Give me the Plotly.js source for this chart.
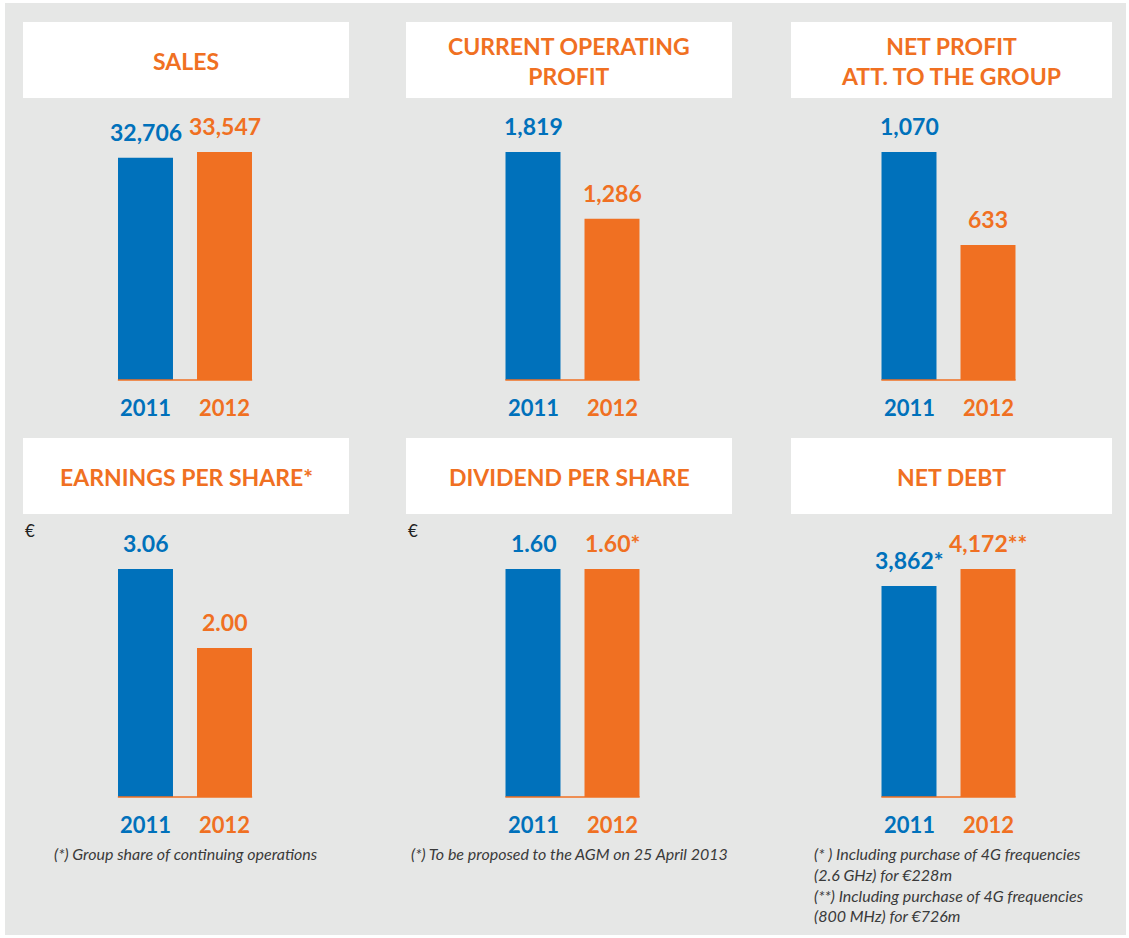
<!DOCTYPE html>
<html>
<head>
<meta charset="utf-8">
<script src="https://cdn.plot.ly/plotly-3.0.1.min.js"></script>
<style>
  html, body { margin: 0; padding: 0; background: #ffffff; }
  #chart { width: 1129px; height: 938px; }
</style>
</head>
<body>
<div id="chart"></div>
<script>
// ---------- DATA ----------
const years = ['2011', '2012'];
const panelTitles = [
  'SALES',
  'CURRENT OPERATING<br>PROFIT',
  'NET PROFIT<br>ATT. TO THE GROUP',
  'EARNINGS PER SHARE*',
  'DIVIDEND PER SHARE',
  'NET DEBT'
];
const sales = [32706, 33547];
const currentOperatingProfit = [1819, 1286];
const netProfit = [1070, 633];
const earningsPerShare = [3.06, 2.00];
const dividendPerShare = [1.60, 1.60];
const netDebt = [3862, 4172];
const valueLabels = [
  ['32,706', '33,547'],
  ['1,819', '1,286'],
  ['1,070', '633'],
  ['3.06', '2.00'],
  ['1.60', '1.60*'],
  ['3,862*', '4,172**']
];
const unitLabels = ['', '', '', '€', '€', ''];
const footnotes = [
  '',
  '',
  '',
  '(*) Group share of continuing operations',
  '(*) To be proposed to the AGM on 25 April 2013',
  '(* ) Including purchase of 4G frequencies<br>(2.6 GHz) for €228m<br>(**) Including purchase of 4G frequencies<br>(800 MHz) for €726m'
];
const seriesValues = [sales, currentOperatingProfit, netProfit, earningsPerShare, dividendPerShare, netDebt];

// ---------- STYLE / LAYOUT ----------
const W = 1129, H = 938;
const BLUE = '#0071bb', ORANGE = '#f07022', BG = '#e6e7e6', NOTE = '#3a3a3a';
const yearColors = [BLUE, ORANGE];
const FONT = 'Lato, "Open Sans", Roboto, sans-serif';
const px = x => x / W;
const py = y => 1 - y / H;

const colDomains = [[106, 264], [493.5, 651.5], [869.5, 1027.5]];
const colBoxes = [[23, 349], [406, 732], [791, 1112]];
const rowDomains = [[152, 380], [569, 797]];
const rowBoxes = [[22, 98], [438, 514]];

const traces = [];
const shapes = [];
const annotations = [];
const layout = {
  width: W, height: H,
  margin: {l: 0, r: 0, t: 0, b: 0},
  paper_bgcolor: '#ffffff',
  plot_bgcolor: 'rgba(0,0,0,0)',
  showlegend: false,
  bargap: 0.304,
  font: {family: FONT}
};

// page background
shapes.push({type: 'rect', xref: 'paper', yref: 'paper', layer: 'below',
  x0: px(5), x1: px(1126), y0: py(935), y1: py(3),
  fillcolor: BG, line: {width: 0}});

seriesValues.forEach((vals, i) => {
  const n = i + 1;
  const row = Math.floor(i / 3), col = i % 3;
  const xa = 'x' + (n === 1 ? '' : n), ya = 'y' + (n === 1 ? '' : n);
  const xKey = 'xaxis' + (n === 1 ? '' : n), yKey = 'yaxis' + (n === 1 ? '' : n);
  const cd = colDomains[col], rd = rowDomains[row];

  traces.push({
    type: 'bar', x: years, y: vals, xaxis: xa, yaxis: ya,
    marker: {color: yearColors, line: {width: 0}},
    hoverinfo: 'skip', cliponaxis: false
  });

  layout[xKey] = {
    domain: [px(cd[0]), px(cd[1])], anchor: ya, type: 'category',
    range: [-0.5, years.length - 0.5], autorange: false,
    visible: false, fixedrange: true
  };
  layout[yKey] = {
    domain: [py(rd[1]), py(rd[0])], anchor: xa,
    range: [0, Math.max(...vals)], autorange: false, visible: false, fixedrange: true
  };

  // white title box
  const bx = colBoxes[col], by = rowBoxes[row];
  shapes.push({type: 'rect', xref: 'paper', yref: 'paper', layer: 'below',
    x0: px(bx[0]), x1: px(bx[1]), y0: py(by[1]), y1: py(by[0]),
    fillcolor: '#ffffff', line: {width: 0}});
  annotations.push({
    xref: 'paper', yref: 'paper', x: px((bx[0] + bx[1]) / 2), y: py((by[0] + by[1]) / 2 + 1),
    xanchor: 'center', yanchor: 'middle', showarrow: false,
    text: panelTitles[i],
    font: {family: FONT, size: 23, color: ORANGE, weight: 700}
  });

  // baseline under both bars (x in category indices, y at the panel's bottom edge)
  shapes.push({type: 'line', xref: xa, yref: 'paper', layer: 'above',
    x0: -0.35, x1: years.length - 1 + 0.35, y0: py(rd[1]), y1: py(rd[1]),
    line: {color: ORANGE, width: 1.6}});

  // value labels and year labels (category index j)
  years.forEach((yr, j) => {
    annotations.push({
      xref: xa, yref: ya, x: j, y: vals[j], yshift: 26,
      xanchor: 'center', yanchor: 'middle', showarrow: false,
      text: valueLabels[i][j],
      font: {family: FONT, size: 23, color: yearColors[j], weight: 700}
    });
    annotations.push({
      xref: xa, yref: ya, x: j, y: 0, yshift: -27,
      xanchor: 'center', yanchor: 'middle', showarrow: false,
      text: yr,
      font: {family: FONT, size: 22, color: yearColors[j], weight: 700}
    });
  });

  // unit label
  if (unitLabels[i]) {
    annotations.push({
      xref: 'paper', yref: 'paper', x: px(bx[0] + 7), y: py(530),
      xanchor: 'center', yanchor: 'middle', showarrow: false,
      text: unitLabels[i],
      font: {family: FONT, size: 17, color: '#222222'}
    });
  }

  // footnotes
  if (footnotes[i]) {
    const multi = footnotes[i].indexOf('<br>') >= 0;
    annotations.push(multi ? {
      xref: 'paper', yref: 'paper', x: px(812), y: py(842),
      xanchor: 'left', yanchor: 'top', align: 'left', showarrow: false,
      text: footnotes[i],
      font: {family: FONT, size: 16, color: NOTE, style: 'italic'}
    } : {
      xref: 'paper', yref: 'paper', x: px((bx[0] + bx[1]) / 2), y: py(853),
      xanchor: 'center', yanchor: 'middle', showarrow: false,
      text: footnotes[i],
      font: {family: FONT, size: 16, color: NOTE, style: 'italic'}
    });
  }
});

layout.shapes = shapes;
layout.annotations = annotations;

Plotly.newPlot('chart', traces, layout, {displayModeBar: false, staticPlot: true});
</script>
</body>
</html>
